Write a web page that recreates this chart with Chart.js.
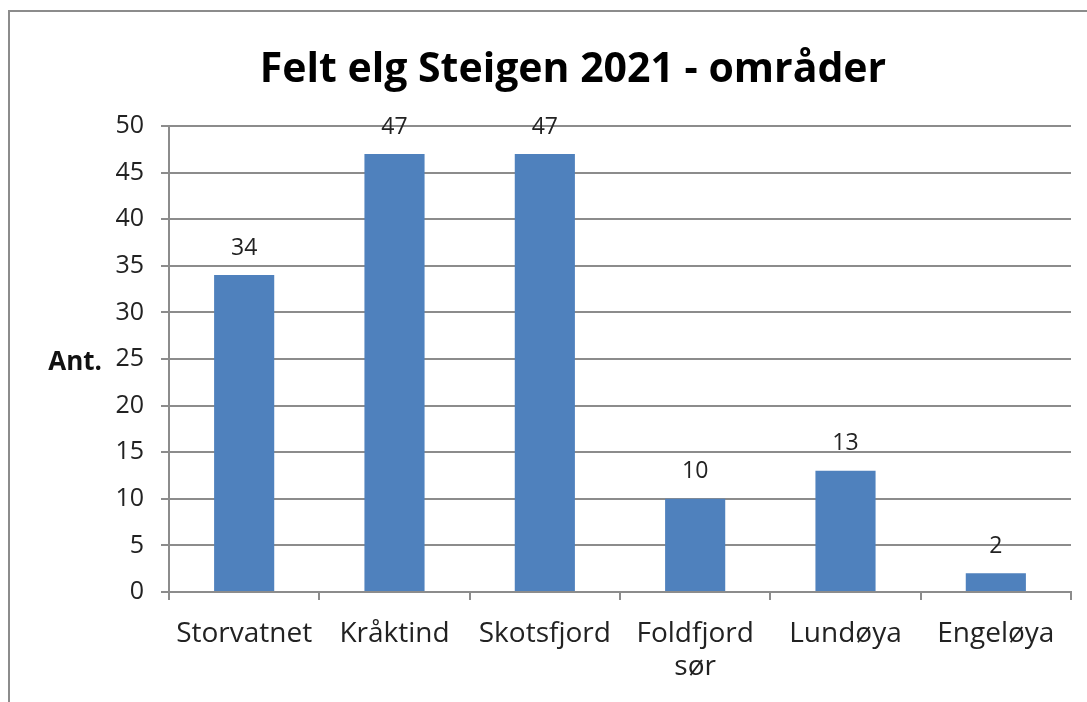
<!DOCTYPE html>
<html>
<head>
<meta charset="utf-8">
<script src="https://cdn.jsdelivr.net/npm/chart.js@4"></script>
<style>
  html, body { margin: 0; padding: 0; background: #fff; overflow: hidden; width: 1087px; height: 702px; }
  #frame { position: absolute; left: 8px; top: 10px; width: 1200px; height: 800px; border: 2px solid #8c8c8c; }
  #wrap { position: absolute; left: 0; top: 0; width: 1087px; height: 702px; }
</style>
</head>
<body>
<div id="frame"></div>
<div id="wrap"><canvas id="chart"></canvas></div>
<script>
// --- DATA ---
const areas = ['Storvatnet', 'Kråktind', 'Skotsfjord', ['Foldfjord', 'sør'], 'Lundøya', 'Engeløya'];
const felled = [34, 47, 47, 10, 13, 2];
const chartTitle = 'Felt elg Steigen 2021 - områder';
const yTitle = 'Ant.';

const FONT = "'Open Sans', 'Noto Sans', sans-serif";
const gridGray = '#8c8c8c';

// value labels above the bars
const valueLabels = {
    id: 'valueLabels',
    afterDatasetsDraw(chart) {
        const ctx = chart.ctx;
        const meta = chart.getDatasetMeta(0);
        ctx.save();
        ctx.font = '23px ' + FONT;
        ctx.fillStyle = '#222';
        ctx.textAlign = 'center';
        ctx.textBaseline = 'middle';
        meta.data.forEach((bar, i) => {
            ctx.fillText(String(felled[i]), bar.x, bar.y - 27);
        });
        ctx.restore();
    }
};

// title and horizontal y-axis title, placed like the original
// (the original frame is wider than the picture, so the title sits right of centre)
const titles = {
    id: 'titles',
    afterDraw(chart) {
        const ctx = chart.ctx;
        ctx.save();
        ctx.fillStyle = '#000';
        ctx.textAlign = 'center';
        ctx.textBaseline = 'middle';
        ctx.font = 'bold 41px ' + FONT;
        ctx.fillText(chartTitle, 573, 70);

        const y = chart.scales.y.getPixelForValue(25);
        ctx.fillStyle = '#111';
        ctx.font = 'bold 26px ' + FONT;
        ctx.textAlign = 'right';
        ctx.fillText(yTitle, 102, y + 4);
        ctx.restore();
    }
};

const ctx = document.getElementById('chart').getContext('2d');
new Chart(ctx, {
    type: 'bar',
    data: {
        labels: areas,
        datasets: [{
            data: felled,
            backgroundColor: '#4f81bd',
            borderWidth: 0,
            categoryPercentage: 1.0,
            barPercentage: 0.4
        }]
    },
    options: {
        responsive: true,
        maintainAspectRatio: false,
        animation: false,
        layout: { padding: { left: 0, right: 16, top: 126, bottom: 0 } },
        plugins: {
            legend: { display: false },
            tooltip: { enabled: false },
            title: { display: false }
        },
        scales: {
            x: {
                offset: true,
                grid: {
                    offset: true,
                    drawOnChartArea: false,
                    drawTicks: true,
                    tickLength: 8,
                    color: gridGray,
                    lineWidth: 2
                },
                border: { display: true, color: gridGray, width: 2 },
                ticks: {
                    color: '#222',
                    padding: 17,
                    maxRotation: 0,
                    autoSkip: false,
                    font: { family: FONT, size: 28, lineHeight: 1.2 }
                },
                afterFit(scale) { scale.height = 110; }
            },
            y: {
                min: 0,
                max: 50,
                ticks: {
                    stepSize: 5,
                    color: '#222',
                    padding: 17,
                    font: { family: FONT, size: 25 }
                },
                grid: {
                    color: gridGray,
                    lineWidth: 2,
                    drawTicks: true,
                    tickLength: 8
                },
                border: { display: true, color: gridGray, width: 2 },
                afterFit(scale) { scale.width = 169; }
            }
        }
    },
    plugins: [valueLabels, titles]
});
</script>
</body>
</html>
